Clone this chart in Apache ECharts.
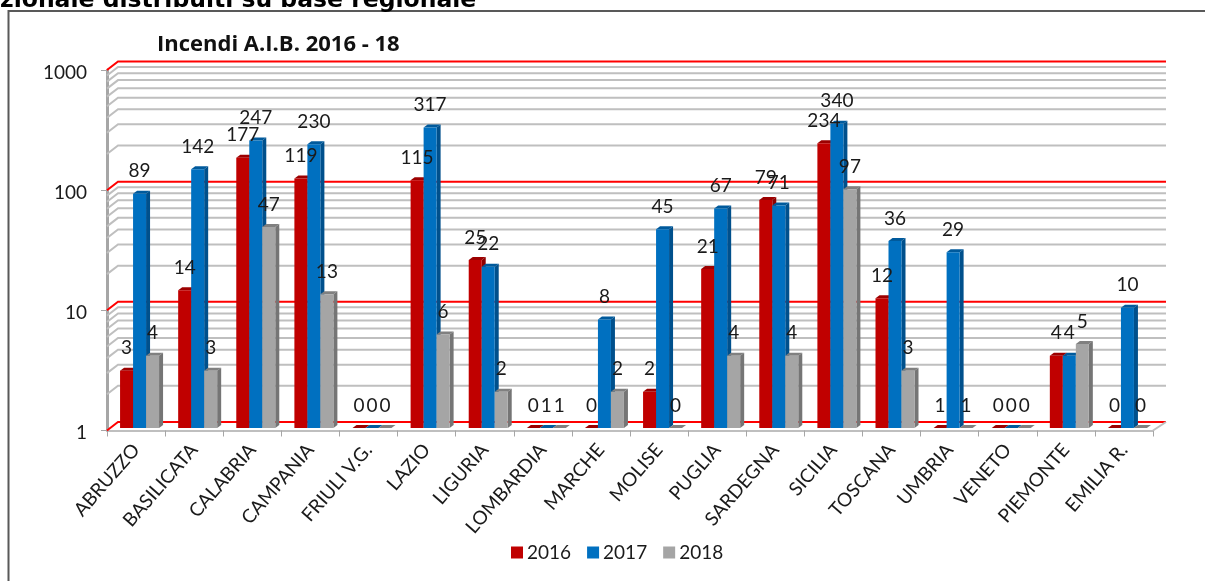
<!DOCTYPE html>
<html><head><meta charset="utf-8">
<style>html,body{margin:0;padding:0;background:#fff;overflow:hidden}#c{width:1205px;height:581px}</style>
<script src="https://cdn.jsdelivr.net/npm/echarts@6/dist/echarts.min.js"></script>
</head><body><div id="c"></div>
<script>
const categories = ['ABRUZZO','BASILICATA','CALABRIA','CAMPANIA','FRIULI V.G.','LAZIO','LIGURIA','LOMBARDIA','MARCHE','MOLISE','PUGLIA','SARDEGNA','SICILIA','TOSCANA','UMBRIA','VENETO','PIEMONTE','EMILIA R.'];
const values2016 = [3,14,177,119,0,115,25,0,0,2,21,79,234,12,1,0,4,0];
const values2017 = [89,142,247,230,0,317,22,1,8,45,67,71,340,36,29,0,4,10];
const values2018 = [4,3,47,13,0,6,2,1,2,0,4,4,97,3,1,0,5,0];
const gridValues = [1,2,3,4,5,6,7,8,9,10,20,30,40,50,60,70,80,90,100,200,300,400,500,600,700,800,900,1000];
const redGridValues = [1,10,100,1000];
const yearNames = ['2016','2017','2018'];
const heading = 'zionale distribuiti su base regionale';
const chartTitle = 'Incendi A.I.B. 2016 - 18';

const FONT = 'Lato';
const TEXT = '#1a1a1a';
const styles = [
  {front:'#c00000', side:'#8f0000', cap:'#9c0000'},
  {front:'#0070c0', side:'#00508c', cap:'#005a9c'},
  {front:'#a5a5a5', side:'#757575', cap:'#808080'}
];
const barW = 13, depthX = 4, depthY = 3, baseLift = 2.5;

function wallRender(params, api){
  const cs = params.coordSys, v = api.value(1), y = api.coord([0, v])[1];
  const red = redGridValues.includes(v);
  const children = [{
    type:'polyline', silent:true,
    shape:{points:[[cs.x,y],[cs.x+11,y-8.5],[cs.x+cs.width+13,y-8.5]]},
    style:{fill:null, stroke:red?'#ff0000':'#bfbfbf', lineWidth:2}
  }];
  if (v === 1) children.push({
    type:'line', silent:true,
    shape:{x1:cs.x+cs.width,y1:y,x2:cs.x+cs.width+13,y2:y-8.5},
    style:{stroke:'#bfbfbf', lineWidth:2}
  });
  return {type:'group', children};
}
function barGeom(api, k){
  const c = api.coord([api.value(0), Math.max(api.value(1),1)]);
  const x = c[0] - 16 + k*barW, top = c[1] - baseLift;
  const base = api.coord([api.value(0), 1])[1] - baseLift;
  return {x, top, base};
}
function barRender(k){
  return function(params, api){
    const g = barGeom(api,k), s = styles[k];
    const kids = [{
      type:'polygon', silent:true,
      shape:{points:[[g.x,g.top],[g.x+depthX,g.top-depthY],[g.x+barW+depthX,g.top-depthY],[g.x+barW,g.top]]},
      style:{fill:s.cap}
    }];
    if (g.base > g.top) {
      kids.push({type:'polygon', silent:true,
        shape:{points:[[g.x+barW,g.top],[g.x+barW+depthX,g.top-depthY],[g.x+barW+depthX,g.base-depthY],[g.x+barW,g.base]]},
        style:{fill:s.side}});
      kids.push({type:'rect', silent:true,
        shape:{x:g.x,y:g.top,width:barW,height:g.base-g.top},
        style:{fill:s.front}});
    }
    return {type:'group', children:kids};
  };
}
function labelRender(k){
  return function(params, api){
    const g = barGeom(api,k);
    return {type:'text', silent:true,
      style:{text:String(api.value(1)), x:g.x+barW/2, y:g.top-22.5, align:'center', verticalAlign:'middle',
             font:'19px '+FONT, fill:TEXT}};
  };
}
const yearData = [values2016, values2017, values2018];
const series = [{
  type:'custom', coordinateSystem:'cartesian2d', z:1, silent:true, clip:false,
  data:gridValues.map(v=>[0,v]), renderItem:wallRender, encode:{x:0,y:1}, tooltip:{show:false}
}];
yearData.forEach((vals,k)=>series.push({
  name:yearNames[k], type:'custom', coordinateSystem:'cartesian2d', z:3+k, clip:false,
  itemStyle:{color:styles[k].front},
  data:vals.map((v,i)=>[i,v]), renderItem:barRender(k), encode:{x:0,y:1}
}));
yearData.forEach((vals,k)=>series.push({
  type:'custom', coordinateSystem:'cartesian2d', z:8, silent:true, clip:false,
  data:vals.map((v,i)=>[i,v]), renderItem:labelRender(k), encode:{x:0,y:1}
}));

const chart = echarts.init(document.getElementById('c'), null, {renderer:'canvas'});
chart.setOption({
  animation:false,
  backgroundColor:'#fff',
  grid:{left:107, top:70, width:1046, height:360.5, containLabel:false},
  legend:{
    data:yearNames, left:506, top:538, icon:'rect', itemWidth:12, itemHeight:12, itemGap:16,
    textStyle:{fontFamily:FONT, fontSize:19, color:TEXT, padding:[0,0,0,-1]}
  },
  xAxis:{
    type:'category', data:categories, boundaryGap:true,
    axisLine:{show:true, onZero:false, lineStyle:{color:'#bfbfbf', width:2}},
    axisTick:{show:true, alignWithLabel:false, length:6, lineStyle:{color:'#a6a6a6', width:1}},
    axisLabel:{interval:0, rotate:49, margin:16, padding:[6,0,0,0], fontFamily:FONT, fontSize:19, color:TEXT},
    splitLine:{show:false}
  },
  yAxis:{
    type:'log', logBase:10, min:1, max:1000,
    axisLine:{show:true, onZero:false, lineStyle:{color:'#a6a6a6', width:3}},
    axisTick:{show:true, length:6, lineStyle:{color:'#a6a6a6', width:1}},
    axisLabel:{margin:20, fontFamily:FONT, fontSize:19, color:TEXT, verticalAlign:'top', lineHeight:5, formatter:v=>String(v)},
    minorTick:{show:false}, splitLine:{show:false}
  },
  series,
  graphic:[
    {type:'polyline', silent:true, z:0, shape:{points:[[8.5,581],[8.5,11],[1205,11]]}, style:{fill:null, stroke:'#595959', lineWidth:2}},
    {type:'text', silent:true, left:157, top:34, style:{text:chartTitle, font:'bold 22px "Open Sans"', fill:'#111'}},
    {type:'text', silent:true, left:0, top:-11, style:{text:heading, font:'bold 23.5px "DejaVu Sans"', fill:'#000'}}
  ]
});
</script></body></html>
